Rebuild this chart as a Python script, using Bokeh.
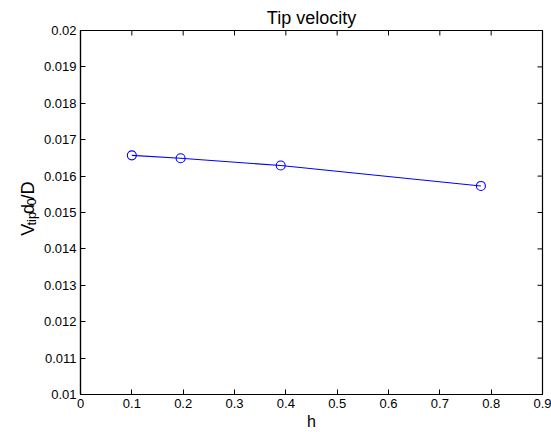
import numpy as np
from bokeh.plotting import figure
from bokeh.layouts import row
from bokeh.models import Range1d, FixedTicker, ColumnDataSource
from bokeh.core.properties import value
from bokeh.embed import file_html
from bokeh.resources import INLINE

# ---- data ----
h_values = [0.1, 0.195, 0.39, 0.78]
v_tip_values = [0.01657, 0.01649, 0.01629, 0.01573]

x_ticks = [0.0, 0.1, 0.2, 0.3, 0.4, 0.5, 0.6, 0.7, 0.8, 0.9]
x_tick_labels = ["0", "0.1", "0.2", "0.3", "0.4", "0.5", "0.6", "0.7", "0.8", "0.9"]
y_ticks = [0.01, 0.011, 0.012, 0.013, 0.014, 0.015, 0.016, 0.017, 0.018, 0.019, 0.02]
y_tick_labels = ["0.01", "0.011", "0.012", "0.013", "0.014", "0.015",
                 "0.016", "0.017", "0.018", "0.019", "0.02"]

title_text = "Tip velocity"
x_label = "h"
y_label_parts = ["V", "tip", "d", "0", "/D"]

FONT = "Liberation Sans"
H = 432
LW = 40                      # width of the strip holding the y label
W = 551 - LW
L, R, T, B = 79 - LW, 9, 30, 37
FW, FH = W - L - R, H - T - B

x0, x1 = 0.0, 0.9
y0, y1 = 0.01, 0.02

p = figure(width=W, height=H, output_backend="svg", toolbar_location=None,
           x_range=Range1d(x0, x1), y_range=Range1d(y0, y1),
           min_border_left=L, min_border_right=R, min_border_top=T, min_border_bottom=B,
           background_fill_color="white", border_fill_color="white")
p.grid.visible = False
p.outline_line_color = "black"
p.outline_line_width = 1.2

p.title.text = title_text
p.title.align = "center"
p.title.text_font = FONT
p.title.text_font_size = "18px"
p.title.text_font_style = "normal"
p.title.text_color = "black"
p.title.standoff = 5

def style_axis(ax, ticks, labels):
    ax.ticker = FixedTicker(ticks=ticks)
    ax.major_label_overrides = {t: l for t, l in zip(ticks, labels)}
    ax.axis_line_color = "black"
    ax.axis_line_width = 1.2
    ax.major_tick_line_color = "black"
    ax.major_tick_line_width = 1
    ax.major_tick_in = 5
    ax.major_tick_out = 0
    ax.minor_tick_line_color = None
    ax.major_label_text_font = FONT
    ax.major_label_text_color = "black"
    ax.major_label_text_font_size = "13px"
    ax.major_label_standoff = 4

style_axis(p.xaxis[0], x_ticks, x_tick_labels)
style_axis(p.yaxis[0], y_ticks, y_tick_labels)
p.xaxis[0].axis_label = x_label
p.xaxis[0].axis_label_text_font = FONT
p.xaxis[0].axis_label_text_font_size = "16px"
p.xaxis[0].axis_label_text_font_style = "normal"
p.xaxis[0].axis_label_text_color = "black"
p.xaxis[0].axis_label_standoff = 2

# inward ticks on the top and right edges (box style)
tick_len = 5
dy = (y1 - y0) * tick_len / FH
dx = (x1 - x0) * tick_len / FW
p.segment(x0=x_ticks, y0=[y1] * len(x_ticks), x1=x_ticks, y1=[y1 - dy] * len(x_ticks),
          line_color="black", line_width=1)
p.segment(x0=[x1] * len(y_ticks), y0=y_ticks, x1=[x1 - dx] * len(y_ticks), y1=y_ticks,
          line_color="black", line_width=1)

p.line(h_values, v_tip_values, line_color="#0000ff", line_width=1.1)
p.scatter(h_values, v_tip_values, marker="circle", size=9,
          fill_color=None, line_color="#0000ff", line_width=1.1)

# ---- y label strip: V_tip d_0 / D, rotated ----
ylab = figure(width=LW, height=H, output_backend="svg", toolbar_location=None,
              x_range=Range1d(0, LW), y_range=Range1d(0, H),
              min_border=0, min_border_left=0, min_border_right=0,
              min_border_top=0, min_border_bottom=0,
              background_fill_color="white", border_fill_color="white")
ylab.axis.visible = False
ylab.grid.visible = False
ylab.outline_line_color = None

sizes = [18, 13, 18, 13, 18]
em_w = [0.667, 1.056, 0.556, 0.556, 1.0]
adv = [s * w for s, w in zip(sizes, em_w)]
total = sum(adv)
center_y = H - 213
ys, xs = [], []
pos = center_y - total / 2
for s, a in zip(sizes, adv):
    ys.append(pos)
    xs.append(27 if s == 18 else 30.5)
    pos += a
src = ColumnDataSource(dict(x=xs, y=ys, text=y_label_parts,
                            size=[f"{s}px" for s in sizes]))
ylab.text(x="x", y="y", text="text", source=src, angle=np.pi / 2,
          text_font=value(FONT), text_font_size="size", text_color="black",
          text_align="left", text_baseline="alphabetic")

layout = row(ylab, p, spacing=0)
open("out.html", "w").write(file_html(layout, INLINE))
